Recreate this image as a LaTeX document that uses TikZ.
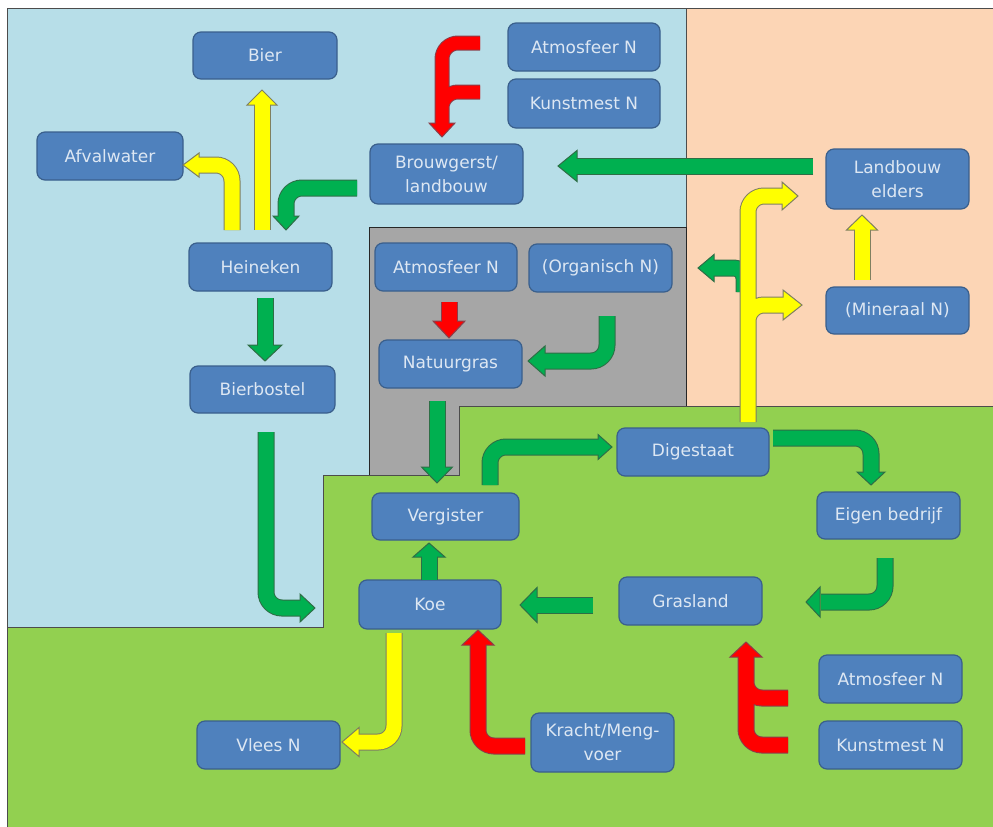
\documentclass[tikz,border=0pt]{standalone}
\usepackage{fontspec}
\setmainfont{DejaVu Sans}
\definecolor{bgblue}{HTML}{B7DEE8}
\definecolor{bgpeach}{HTML}{FCD5B5}
\definecolor{bggrey}{HTML}{A6A6A6}
\definecolor{bggreen}{HTML}{92D050}
\definecolor{boxfill}{HTML}{4F81BD}
\definecolor{boxline}{HTML}{3A5F8C}
\definecolor{boxtext}{HTML}{DDE7F3}
\definecolor{gF}{HTML}{00B050}
\definecolor{gO}{HTML}{2E6E46}
\definecolor{yF}{HTML}{FFFF00}
\definecolor{yO}{HTML}{7F7F60}
\definecolor{rF}{HTML}{FF0000}
\definecolor{rO}{HTML}{8A3F4A}
\tikzset{
  nbox/.style={draw=boxline, fill=boxfill, line width=1.2pt, rounded corners=8pt,
    text=boxtext, font=\fontsize{17}{24}\selectfont, align=center, inner sep=0pt},
  region/.style={draw=black!70, line width=1pt},
}
\def\wo{17pt}\def\wi{15pt}
% block arrow: [opts]{fill}{outline}{shaft path}{tip}{angle}{head length}; head half width in \hw
\newcommand\barrow[7][]{%
  \draw[draw=#3, line width=\wo, rounded corners=16pt, #1] #4;
  \filldraw[fill=#2, draw=#3, line width=1pt, shift={#5}, rotate=#6] (0,0) -- (-#7,\hw) -- (-#7,-\hw) -- cycle;
  \draw[draw=#2, line width=\wi, rounded corners=16pt, #1] #4;}
\begin{document}
\begin{tikzpicture}[x=1pt,y=-1pt]
\useasboundingbox (0,0) rectangle (993,827);
\fill[white] (0,0) rectangle (993,827);
% regions
\filldraw[region, fill=bgblue] (7,8) -- (686,8) -- (686,227) -- (369,227) -- (369,475) -- (323,475) -- (323,627) -- (7,627) -- cycle;
\filldraw[region, fill=bgpeach] (686,8) -- (993,8) -- (993,406) -- (686,406) -- cycle;
\filldraw[region, fill=bggrey, draw=black!85] (369,227) -- (686,227) -- (686,406) -- (459,406) -- (459,475) -- (369,475) -- cycle;
\filldraw[region, fill=bggreen] (7,627) -- (323,627) -- (323,475) -- (459,475) -- (459,406) -- (993,406) -- (993,827) -- (7,827) -- cycle;

% boxes
\node[nbox, minimum width=144pt, minimum height=47pt] (bier) at (265,55.5) {Bier};
\node[nbox, minimum width=146pt, minimum height=48pt] (afval) at (110,156) {Afvalwater};
\node[nbox, minimum width=153pt, minimum height=60pt] (brouw) at (446.5,174) {Brouwgerst/\\landbouw};
\node[nbox, minimum width=143pt, minimum height=48pt] (heineken) at (260.5,267) {Heineken};
\node[nbox, minimum width=145pt, minimum height=47pt] (bierbostel) at (262.5,389.5) {Bierbostel};
\node[nbox, minimum width=142pt, minimum height=48pt] (atmG) at (446,267) {Atmosfeer N};
\node[nbox, minimum width=143pt, minimum height=48pt] (organisch) at (600.5,268) {(Organisch N)};
\node[nbox, minimum width=143pt, minimum height=48pt] (natuurgras) at (450.5,364) {Natuurgras};
\node[nbox, minimum width=152pt, minimum height=48pt] (atmT) at (584,47) {Atmosfeer N};
\node[nbox, minimum width=152pt, minimum height=49pt] (kunstT) at (584,103.5) {Kunstmest N};
\node[nbox, minimum width=143pt, minimum height=60pt] (landbouw) at (897.5,179) {Landbouw\\elders};
\node[nbox, minimum width=143pt, minimum height=47pt] (mineraal) at (897.5,310.5) {(Mineraal N)};
\node[nbox, minimum width=147pt, minimum height=47pt] (vergister) at (445.5,516.5) {Vergister};
\node[nbox, minimum width=142pt, minimum height=49pt] (koe) at (430,604.5) {Koe};
\node[nbox, minimum width=143pt, minimum height=48pt] (vlees) at (268.5,745) {Vlees N};
\node[nbox, minimum width=152pt, minimum height=48pt] (digestaat) at (693,452) {Digestaat};
\node[nbox, minimum width=143pt, minimum height=47pt] (eigen) at (888.5,515.5) {Eigen bedrijf};
\node[nbox, minimum width=143pt, minimum height=48pt] (grasland) at (690.5,601) {Grasland};
\node[nbox, minimum width=143pt, minimum height=48pt] (atmB) at (890.5,679) {Atmosfeer N};
\node[nbox, minimum width=143pt, minimum height=48pt] (kunstB) at (890.5,745) {Kunstmest N};
\node[nbox, minimum width=143pt, minimum height=59pt] (kracht) at (602.5,742.5) {Kracht/Meng-\\voer};

% arrows
\def\hw{15}\barrow{yF}{yO}{(262,230)--(262,104)}{(262,90)}{90}{15}
\def\hw{12}\barrow{yF}{yO}{(232,230)--(232,165)--(198,165)}{(183,165)}{180}{16}
\def\hw{13}\barrow{gF}{gO}{(357,188)--(286,188)--(286,217)}{(286,230)}{270}{14}
\def\hw{17}\barrow{gF}{gO}{(265,298)--(265,346)}{(265,361)}{270}{16}
{\def\wo{15pt}\def\wi{13pt}\def\hw{13}\barrow{rF}{rO}{(480,43)--(442,43)--(442,124) (480,92)--(442,92)--(442,124)}{(442,137)}{270}{14}}
\def\hw{15.5}\barrow{gF}{gO}{(813,166)--(576,166)}{(558,166)}{180}{19}
\def\hw{16}\barrow{rF}{rO}{(449,302)--(449,322)}{(449,338)}{270}{17}
\def\hw{15}\barrow{gF}{gO}{(607,316)--(607,361)--(544,361)}{(528,361)}{180}{17}
\def\hw{15.5}\barrow{gF}{gO}{(437,401)--(437,468)}{(437,483)}{270}{16}
\def\hw{14}\barrow{gF}{gO}{(266,432)--(266,608)--(301,608)}{(315,608)}{0}{15}
\def\hw{16}\barrow{gF}{gO}{(429,580)--(429,556)}{(429,543)}{90}{14}
\def\hw{14.5}\barrow{yF}{yO}{(394,633)--(394,742)--(358,742)}{(342,742)}{180}{17}
\def\hw{16}\barrow{rF}{rO}{(525,746)--(478,746)--(478,644)}{(478,630)}{90}{15}
\def\hw{12.5}\barrow{gF}{gO}{(490,485)--(490,447)--(599,447)}{(612,447)}{0}{14}
\def\hw{14}\barrow{gF}{gO}{(773,438)--(871,438)--(871,473)}{(871,485)}{270}{13}
\def\hw{15}\barrow{gF}{gO}{(885,558)--(885,602)--(821,602)}{(806,602)}{180}{14}
\def\hw{17.5}\barrow{gF}{gO}{(593,605)--(536,605)}{(520,605)}{180}{17}
\def\hw{16}\barrow{rF}{rO}{(788,698)--(746,698)--(746,656) (788,745)--(746,745)--(746,656)}{(746,642)}{90}{15}
\def\hw{15.5}\barrow{yF}{yO}{(862,280)--(862,229)}{(862,215)}{90}{15}
% green to the left, behind the yellow tree
\def\hw{13.5}\barrow[rounded corners=10pt]{gF}{gO}{(744,292)--(744,268)--(713,268)}{(698,268)}{180}{16}
% yellow tree from Digestaat
\draw[draw=yO, line width=17pt, rounded corners=16pt] (748,422)--(748,196)--(783,196) (748,340)--(748,305)--(784,305);
\filldraw[fill=yF, draw=yO, line width=1pt] (798,196) -- (782,182) -- (782,210) -- cycle;
\filldraw[fill=yF, draw=yO, line width=1pt] (802,305) -- (783,290) -- (783,320) -- cycle;
\draw[draw=yF, line width=15pt, rounded corners=16pt] (748,422)--(748,196)--(783,196) (748,340)--(748,305)--(784,305);
\end{tikzpicture}
\end{document}
